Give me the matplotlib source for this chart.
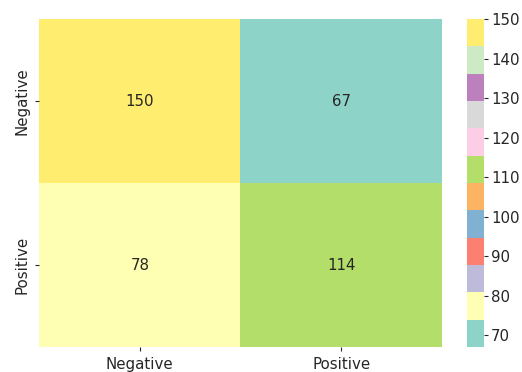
import matplotlib
matplotlib.use("Agg")
import matplotlib.pyplot as plt
import numpy as np
import seaborn as sns

labels = ["Negative", "Positive"]
counts = [[150, 67],
          [78, 114]]
cbar_ticks = [70, 80, 90, 100, 110, 120, 130, 140, 150]

FS = 10.8

fig = plt.figure(figsize=(5.22, 3.72), dpi=100)
ax = fig.add_axes([39 / 522, 25 / 372, 403 / 522, 328 / 372])
cax = fig.add_axes([467 / 522, 25 / 372, 17 / 522, 328 / 372])

sns.heatmap(np.array(counts), annot=True, fmt="d", cmap="Set3", ax=ax, cbar_ax=cax,
            xticklabels=labels, yticklabels=labels, annot_kws={"size": FS, "color": "#262626"})
ax.tick_params(labelsize=FS, length=3, pad=4, colors="#262626")
cax.set_yticks(cbar_ticks)
cax.tick_params(labelsize=FS, length=3, pad=2, colors="#262626")

fig.savefig("out.png", dpi=100)
